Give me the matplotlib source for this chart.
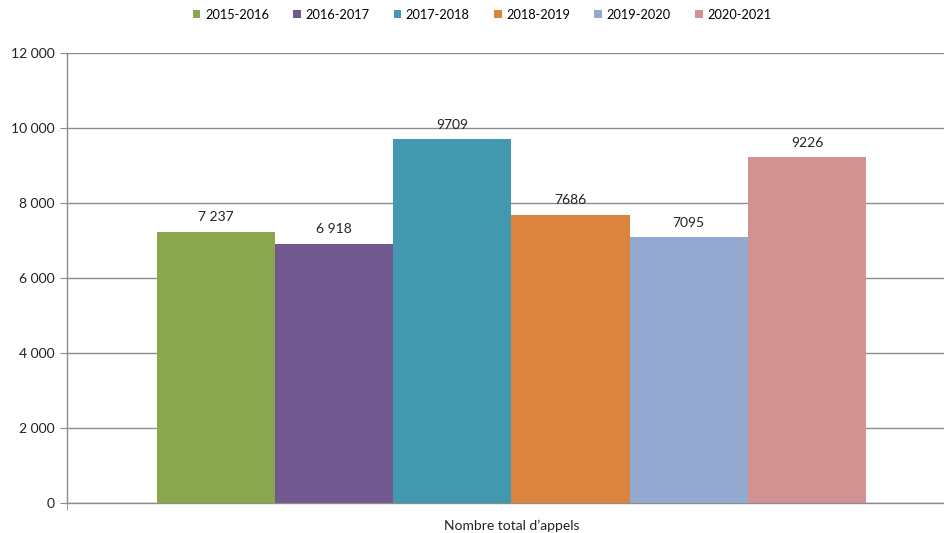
import matplotlib.pyplot as plt
from matplotlib.ticker import FuncFormatter

seasons = ["2015-2016", "2016-2017", "2017-2018", "2018-2019", "2019-2020", "2020-2021"]
calls = [7237, 6918, 9709, 7686, 7095, 9226]
value_labels = ["7 237", "6 918", "9709", "7686", "7095", "9226"]
colors = ["#8ba74e", "#71588f", "#4198af", "#db843d", "#93a9cf", "#d19392"]
category = "Nombre total d\u2019appels"

plt.rcParams['font.family'] = ['Lato', 'DejaVu Sans']

fig = plt.figure(figsize=(9.45, 5.33), dpi=100)
ax = fig.add_axes([67 / 945, 1 - 503 / 533, 1 - 67 / 945, (503 - 53) / 533])

for i, (season, val, lab, col) in enumerate(zip(seasons, calls, value_labels, colors)):
    ax.bar(i, val, width=1.0, color=col, label=season, zorder=3)
    ax.annotate(lab, (i, val), xytext=(0, 6), textcoords='offset points',
                ha='center', va='bottom', fontsize=10, color='#222222')

ax.set_xlim(-0.5 - 0.761, len(seasons) - 0.5 + 0.668)
ax.set_ylim(0, 12000)
ax.set_yticks(range(0, 12001, 2000))
ax.yaxis.set_major_formatter(FuncFormatter(lambda v, p: f"{int(v):,}".replace(",", " ")))
ax.yaxis.grid(True, color='#8c8c8c', linewidth=1, zorder=0)
ax.tick_params(axis='y', length=5, color='#8c8c8c', labelsize=10, labelcolor='#222222', pad=4)

ax.set_xticks([(len(seasons) - 1) / 2])
ax.set_xticklabels([category], fontsize=10, color='#222222')
ax.tick_params(axis='x', length=0, pad=12)
ax.set_xticks([-0.5 - 0.761], minor=True)
ax.tick_params(axis='x', which='minor', length=5, color='#8c8c8c')

for side in ['top', 'right']:
    ax.spines[side].set_visible(False)
for side in ['left', 'bottom']:
    ax.spines[side].set_color('#8c8c8c')
    ax.spines[side].set_linewidth(1)

fig.legend(loc='upper center', bbox_to_anchor=(0.51, 1.005), ncol=6, frameon=False,
           fontsize=9.2, handlelength=0.6, handleheight=0.6, handletextpad=0.35,
           columnspacing=1.9)

fig.savefig("out.png", dpi=100)
